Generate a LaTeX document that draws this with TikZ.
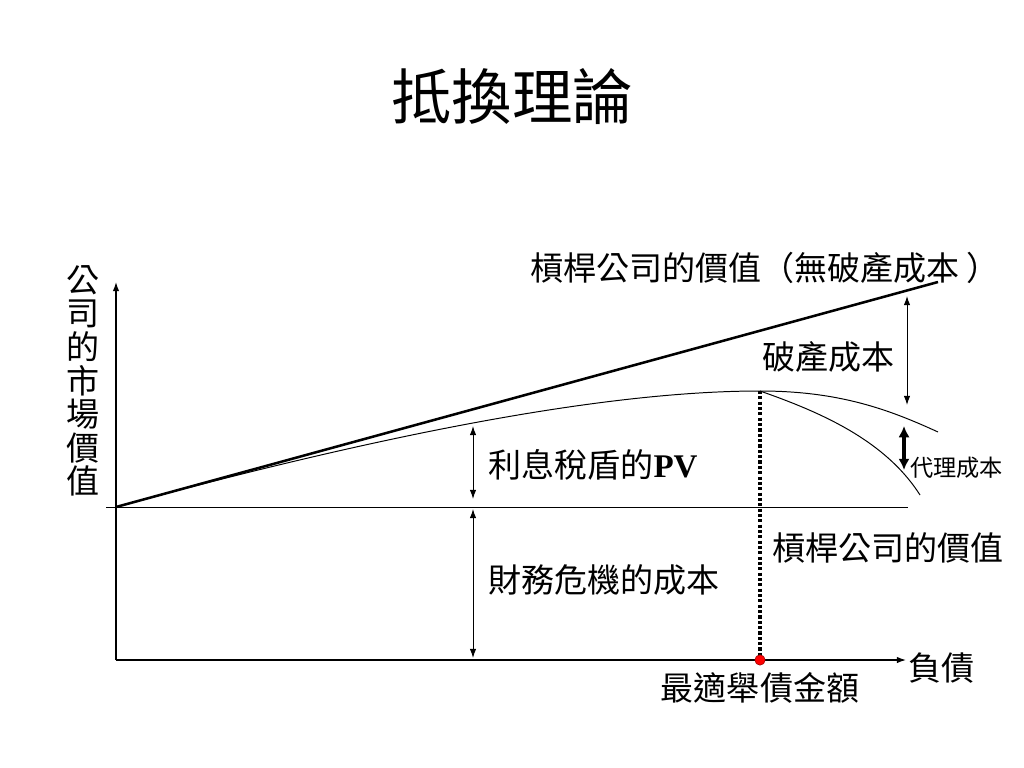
\documentclass[tikz,border=0pt]{standalone}
\usepackage{fontspec}
\setmainfont{Liberation Serif}
\newfontfamily\cjk{Noto Sans CJK TC}
\usetikzlibrary{arrows.meta}
\begin{document}
\begin{tikzpicture}[x=0.025cm,y=-0.025cm,>={Latex[length=6.5pt,width=4.6pt]},
    lbl/.style={inner sep=0pt,font=\cjk\fontsize{23.5}{24}\selectfont},
    small/.style={inner sep=0pt,font=\cjk\fontsize{16.5}{17}\selectfont},
    gap/.style={<->,line width=0.7pt}]
  \useasboundingbox (0,0) rectangle (1024,768);

  % axes
  \coordinate (O) at (116,660);
  \coordinate (Ytop) at (116,282);
  \coordinate (Xend) at (906,660);
  \draw[->,line width=0.9pt] (O) -- (Ytop);
  \draw[->,line width=0.9pt] (O) -- (Xend);

  % unlevered value and curves
  \coordinate (U0) at (106,507);
  \coordinate (U1) at (908,507);
  \coordinate (A) at (116,507);
  \coordinate (B) at (938,282);
  \coordinate (P) at (760,391);
  \coordinate (C) at (938,432);
  \coordinate (D) at (920,495);
  \draw[line width=0.6pt] (U0) -- (U1);
  \draw[line width=1.8pt] (A) -- (B);
  \draw[line width=0.7pt] (A) .. controls (398,430) and (613,391) .. (P)
        .. controls (840,391) and (890,410) .. (C);
  \draw[line width=0.7pt] (P) .. controls (820,412) and (885,440) .. (D);

  % optimum debt
  \coordinate (Q) at (760,660);
  \draw[line width=2.2pt,dash pattern=on 2.2pt off 1.6pt] (P) -- (Q);
  \node (opt) at (Q)[circle,fill=red,draw=red!60!black,inner sep=2.6pt]{};

  % gaps
  \coordinate (t1) at (473,426);
  \coordinate (t2) at (473,499);
  \coordinate (t3) at (473,509);
  \coordinate (t4) at (473,658);
  \coordinate (b1) at (907,296);
  \coordinate (b2) at (907,405);
  \coordinate (a1) at (904,426);
  \coordinate (a2) at (904,470);
  \draw[gap] (t1) -- (t2);
  \draw[gap] (t3) -- (t4);
  \draw[gap] (b1) -- (b2);
  \draw[{Latex[length=8pt,width=8pt]}-{Latex[length=8pt,width=8pt]},line width=2.4pt] (a1) -- (a2);

  % labels
  \node (title) at (512,97)[inner sep=0pt,font=\cjk\fontsize{43}{44}\selectfont]{抵換理論};
  \node (ylab) at (83,381)[inner sep=0pt,align=center,
    font=\cjk\fontsize{23.5}{23.9}\selectfont]{公\\司\\的\\市\\場\\價\\值};
  \node (nobk) at (530,268)[lbl,anchor=west]{槓桿公司的價值（無破產成本\hspace{0.2em}）};
  \node (bk) at (762,357)[lbl,anchor=west]{破產成本};
  \node (ag) at (910,468)[small,anchor=west]{代理成本};
  \node (pv) at (488,465)[lbl,anchor=west]{利息稅盾的\textbf{\rmfamily PV}};
  \node (fd) at (488,580)[lbl,anchor=west]{財務危機的成本};
  \node (lev) at (772,548)[lbl,anchor=west]{槓桿公司的價值};
  \node (debt) at (908,668)[lbl,anchor=west]{負債};
  \node (optlab) at (760,688)[lbl]{最適舉債金額};
\end{tikzpicture}
\end{document}
